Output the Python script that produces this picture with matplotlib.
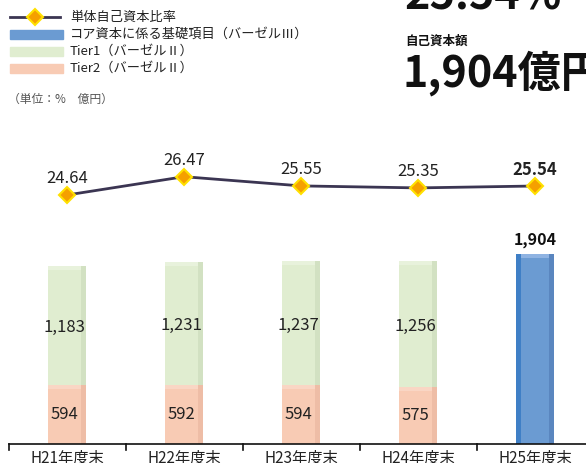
import matplotlib

matplotlib.use("Agg")

import matplotlib.pyplot as plt
from matplotlib.lines import Line2D
from matplotlib.patches import Rectangle

plt.rcParams["font.family"] = ["Noto Sans CJK JP", "DejaVu Sans"]

categories = ["H21年度末", "H22年度末", "H23年度末", "H24年度末", "H25年度末"]
tier2 = [594, 592, 594, 575, 0]
tier1 = [1183, 1231, 1237, 1256, 0]
core = [0, 0, 0, 0, 1904]
ratio = [24.64, 26.47, 25.55, 25.35, 25.54]

legend_labels = [
    "単体自己資本比率",
    "コア資本に係る基礎項目（バーゼルⅢ）",
    "Tier1（バーゼルⅡ）",
    "Tier2（バーゼルⅡ）",
]

W, H = 586, 463
fig = plt.figure(figsize=(W / 100, H / 100), dpi=100)

# bar axes: baseline at y=444 px, 0.1 px per unit
ax = fig.add_axes([0, (H - 444) / H, 1, 444 / H])
ax.set_xlim(-67 / 117, 519 / 117)
ax.set_ylim(0, 4440)
ax.axis("off")

x = list(range(len(categories)))
bw = 0.325
side = 0.045
bevel = 40

green, green_side, green_top = "#e0edd0", "#d2e1c2", "#e8f2dc"
pink, pink_side, pink_top = "#f8cbb4", "#eebda6", "#f9d6c4"
blue, blue_left, blue_side, blue_top = "#6b9bd2", "#3f7fc6", "#5a86bf", "#8fb3e2"

tot12 = [a + b for a, b in zip(tier2, tier1)]
left = [i - bw / 2 for i in x]

# Tier2
ax.bar(left, tier2, width=bw, align="edge", color=pink)
ax.bar([l + bw - side for l in left], tier2, width=side, align="edge", color=pink_side)
# Tier1
ax.bar(left, tier1, width=bw, bottom=tier2, align="edge", color=green)
ax.bar([l + bw - side for l in left], tier1, width=side, bottom=tier2,
       align="edge", color=green_side)
# top bevels
ax.bar(left, [bevel if v else 0 for v in tier2], width=bw - side,
       bottom=[v - bevel for v in tier2], align="edge", color=pink_top)
ax.bar(left, [bevel if v else 0 for v in tier1], width=bw - side,
       bottom=[v - bevel for v in tot12], align="edge", color=green_top)
# core capital
ax.bar(left, core, width=bw, align="edge", color=blue)
ax.bar(left, core, width=side, align="edge", color=blue_left)
ax.bar([l + bw - side for l in left], core, width=side, align="edge", color=blue_side)
ax.bar([l + side for l in left], [bevel if v else 0 for v in core],
       width=bw - 2 * side, bottom=[v - bevel for v in core],
       align="edge", color=blue_top)

for i in x:
    cx = i - side / 2
    if tier2[i]:
        ax.text(cx, tier2[i] / 2, f"{tier2[i]:,}", ha="center", va="center",
                fontsize=12, color="#222222")
    if tier1[i]:
        ax.text(cx, tier2[i] + tier1[i] / 2 - 25, f"{tier1[i]:,}", ha="center",
                va="center", fontsize=12, color="#222222")
    if core[i]:
        ax.text(i, core[i] + 140, f"{core[i]:,}", ha="center", va="center",
                fontsize=11.5, fontweight="bold", color="#111111")

# baseline and group ticks
ax.plot([-0.5, 4.45], [0, 0], color="#111111", lw=1.2, clip_on=False)
for i in x:
    ax.plot([i - 0.5, i - 0.5], [0, -60], color="#111111", lw=1.2, clip_on=False)
    ax.text(i, -140, categories[i], ha="center", va="center", fontsize=11,
            color="#222222")

# ratio line
ax2 = ax.twinx()
ax2.set_ylim(-0.26, -0.26 + 44.4)
ax2.axis("off")
ax2.plot(x, ratio, color="#3b3552", lw=2, marker="D", markersize=8,
         markerfacecolor="#f5a000", markeredgecolor="#ffe000", markeredgewidth=1.5)
for i in x:
    ax2.text(i, ratio[i] + 1.6, f"{ratio[i]:.2f}", ha="center", va="center",
             fontsize=12, color="#222222",
             fontweight="bold" if i == len(x) - 1 else "normal")

# legend drawn by hand
def fx(px):
    return px / W


def fy(py):
    return 1 - py / H


rows = [17, 34, 51, 68]
fig.add_artist(Line2D([fx(10), fx(60)], [fy(rows[0])] * 2, color="#3b3552", lw=2))
fig.add_artist(Line2D([fx(35)], [fy(rows[0])], marker="D", markersize=8,
                      markerfacecolor="#f5a000", markeredgecolor="#ffe000",
                      markeredgewidth=1.5))
for r, c in zip(rows[1:], [blue, green, pink]):
    fig.add_artist(Rectangle((fx(10), fy(r + 4.5)), fx(53), 9 / H, color=c,
                             transform=fig.transFigure))
for r, lab in zip(rows, legend_labels):
    fig.text(fx(70), fy(r), lab, ha="left", va="center", fontsize=9.5,
             color="#222222")

fig.text(fx(8), fy(99), "（単位：%　億円）", ha="left", va="center", fontsize=8.5,
         color="#555555")

# headline figures at top right
fig.text(fx(404), fy(10), "25.54%", ha="left", va="baseline", fontsize=31,
         fontweight="bold", color="#111111")
fig.text(fx(405), fy(41), "自己資本額", ha="left", va="center", fontsize=9,
         fontweight="bold", color="#111111")
fig.text(fx(403), fy(87), "1,904億円", ha="left", va="baseline", fontsize=31,
         fontweight="bold", color="#111111")

fig.savefig("out.png", dpi=100)
